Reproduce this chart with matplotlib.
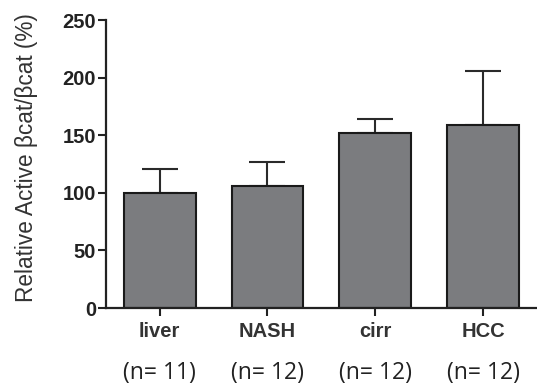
import matplotlib
matplotlib.use("Agg")
import matplotlib.pyplot as plt
import matplotlib.transforms as mtransforms

# Values
groups = ["liver", "NASH", "cirr", "HCC"]
n_labels = ["(n= 11)", "(n= 12)", "(n= 12)", "(n= 12)"]
means = [100, 106, 152, 159]
upper_err = [21, 21, 12, 47]
y_ticks = [0, 50, 100, 150, 200, 250]

fig = plt.figure(figsize=(5.37, 3.85), dpi=100)
ax = fig.add_axes([0.197, 0.2, 0.803, 0.748])

x = list(range(len(groups)))
ax.bar(x, means, width=0.667, color="#7b7c7f", edgecolor="#1a1a1a", linewidth=1.5,
       zorder=2)
ax.errorbar(x, means, yerr=[[0] * len(means), upper_err], fmt="none",
            ecolor="#2a2a2a", elinewidth=1.5, capsize=13, capthick=1.5, zorder=1)

ax.set_xlim(-0.5, 3.5)
ax.set_ylim(0, 250)
ax.set_yticks(y_ticks)
ax.set_xticks(x)
ax.set_xticklabels(groups, fontfamily="Liberation Sans", fontweight="bold",
                   fontsize=14.5, color="#333333")
for lab in ax.get_yticklabels():
    lab.set_fontfamily("Liberation Sans")
    lab.set_fontweight("bold")
    lab.set_fontsize(14.5)
    lab.set_color("#222222")

ax.tick_params(axis="both", length=6, width=1.5, color="#222222")
ax.tick_params(axis="x", pad=4)
ax.tick_params(axis="y", pad=1)

for side in ["top", "right"]:
    ax.spines[side].set_visible(False)
for side in ["left", "bottom"]:
    ax.spines[side].set_linewidth(1.6)
    ax.spines[side].set_color("#222222")

ax.set_ylabel("Relative Active \u03b2cat/\u03b2cat (%)", fontfamily="Liberation Sans",
              fontsize=16.3, color="#333333")
ax.yaxis.set_label_coords(-0.157, 0.524)

# sample sizes under each group
trans = mtransforms.blended_transform_factory(ax.transData, ax.transAxes)
for xi, lab in zip(x, n_labels):
    ax.text(xi, -0.226, lab, transform=trans, ha="center", va="center",
            fontfamily="Open Sans", fontsize=16.5, color="#222222")

fig.savefig("out.png", dpi=100)
